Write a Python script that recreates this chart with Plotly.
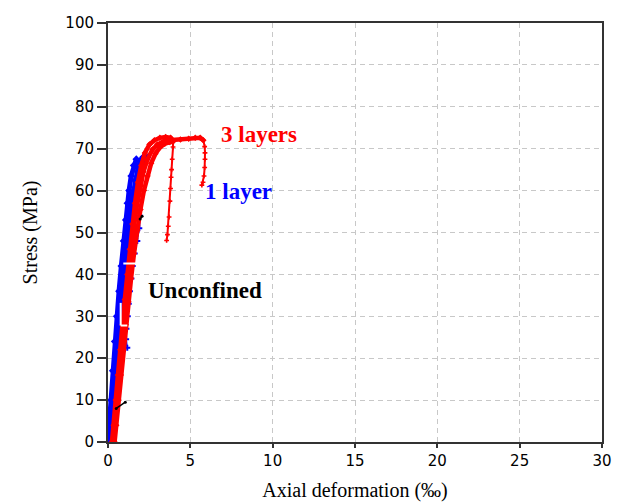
import plotly.graph_objects as go

# ---- data (Axial deformation in per mille, Stress in MPa) ----
b1_x = [0.0, 0.07, 0.18, 0.29, 0.41, 0.53, 0.67, 0.81, 0.95, 1.08, 1.18, 1.28, 1.41, 1.56, 1.72]
b1_y = [0, 4, 10, 17, 24, 30, 36, 42, 48, 53, 57, 60, 63.5, 66, 67.5]
b2_x = [0.05, 0.17, 0.29, 0.42, 0.56, 0.7, 0.86, 1.02, 1.18, 1.34, 1.5, 1.66, 1.83, 2.0, 2.14]
b2_y = [0, 5, 11, 17, 24, 30, 36.5, 42.5, 48.5, 54, 58.5, 62.5, 65.5, 67.3, 68]
b3_x = [0.12, 0.25, 0.4, 0.55, 0.7, 0.86, 1.02, 1.2, 1.38, 1.56, 1.74, 1.92, 2.1, 2.28, 2.38]
b3_y = [0, 5, 11, 17, 23.5, 30, 36.5, 43, 49, 54.5, 59, 62.5, 65.5, 67.3, 67.9]
b4_x = [1.17, 1.1, 1.12, 1.2, 1.26, 1.33, 1.42, 1.5, 1.62, 1.78, 1.9, 1.95]
b4_y = [22.5, 24.5, 27, 30, 33, 36, 39, 42, 45, 48, 51, 54]

r1_x = [0.24, 0.34, 0.47, 0.6, 0.74, 0.88, 1.02, 1.17, 1.32, 1.48, 1.64, 1.82, 2.02, 2.24, 2.52, 2.82, 3.15, 3.5, 3.8, 3.95]
r1_y = [0, 4, 10, 16, 22, 28, 34, 40, 46, 52, 57, 62, 66, 69, 71, 72, 72.6, 72.8, 72.6, 71.8]
r1d_x = [3.95, 3.95, 3.9, 3.86, 3.83, 3.8, 3.76, 3.71, 3.66, 3.61, 3.56]
r1d_y = [71.8, 70.4, 67.5, 65, 63.2, 60.5, 57.5, 53.7, 51.5, 49.5, 48.1]
r2_x = [0.3, 0.4, 0.52, 0.66, 0.8, 0.95, 1.1, 1.26, 1.42, 1.58, 1.76, 1.95, 2.15, 2.4, 2.7, 3.0, 3.4, 3.9, 4.4, 4.9, 5.3, 5.6, 5.79]
r2_y = [0, 4, 10, 16, 22, 28, 34, 40, 46, 51.5, 56.5, 61, 64.5, 67.5, 69.8, 71, 71.8, 72.1, 72.2, 72.4, 72.6, 72.6, 72.0]
r2d_x = [5.79, 5.87, 5.89, 5.89, 5.87, 5.83, 5.77, 5.7]
r2d_y = [72.0, 70.5, 69.0, 67.5, 65.5, 63.5, 62.0, 61.3]
r3_x = [0.4, 0.5, 0.63, 0.78, 0.93, 1.08, 1.24, 1.4, 1.58, 1.77, 1.97, 2.18, 2.4, 2.62, 2.88, 3.15, 3.45, 3.75, 3.95]
r3_y = [0, 4, 10, 16, 22, 28, 33.5, 39, 45, 50.5, 55.5, 60, 63.5, 66.5, 68.8, 70.3, 71.2, 71.6, 71.7]

unc_x = [0.5, 1.05, None, 1.95, 2.07]
unc_y = [8.0, 9.5, None, 53.2, 53.9]

white_x = [0.93, 1.9, None, 0.77, 1.17, None, 0.77, 0.77]
white_y = [42.6, 42.6, None, 27.8, 27.8, None, 27.8, 33.2]

x_ticks = [0, 5, 10, 15, 20, 25, 30]
y_ticks = [0, 10, 20, 30, 40, 50, 60, 70, 80, 90, 100]

labels = ["3 layers", "1 layer", "Unconfined"]
label_x = [9.2, 7.95, 5.9]
label_y = [73.3, 59.8, 36.2]
label_colors = ["#ff0000", "#0000ff", "#000000"]

BLUE = "#0000ff"
RED = "#ff0000"

fig = go.Figure()

def add(x, y, color, width, msize, symbol="diamond"):
    fig.add_trace(go.Scatter(
        x=x, y=y, mode="lines+markers",
        line=dict(color=color, width=width),
        marker=dict(color=color, size=msize, symbol=symbol),
        showlegend=False, hoverinfo="skip"))

# 1 layer (blue)
add(b1_x, b1_y, BLUE, 5, 6)
add(b2_x, b2_y, BLUE, 5, 6)
add(b3_x, b3_y, BLUE, 5, 6)
add(b4_x, b4_y, BLUE, 1.5, 5, "cross")
# 3 layers (red)
add(r1_x, r1_y, RED, 4.5, 5)
add(r2_x, r2_y, RED, 4.5, 5)
add(r3_x, r3_y, RED, 4.5, 5)
add(r1d_x, r1d_y, RED, 2, 4, "cross")
add(r2d_x, r2d_y, RED, 2, 4, "cross")
# white marks
fig.add_trace(go.Scatter(x=white_x, y=white_y, mode="lines",
                         line=dict(color="white", width=2),
                         showlegend=False, hoverinfo="skip"))
# unconfined (black)
fig.add_trace(go.Scatter(x=unc_x, y=unc_y, mode="lines+markers",
                         line=dict(color="black", width=1.5),
                         marker=dict(color="black", size=3),
                         showlegend=False, hoverinfo="skip"))

for t, lx, ly, c in zip(labels, label_x, label_y, label_colors):
    fig.add_annotation(x=lx, y=ly, xref="x", yref="y", text="<b>%s</b>" % t,
                       showarrow=False,
                       font=dict(family="Liberation Serif", size=23, color=c))

fig.update_layout(
    width=621, height=502,
    margin=dict(l=108, r=19, t=23, b=60),
    paper_bgcolor="white", plot_bgcolor="white",
)
fig.update_xaxes(
    range=[0, 30], tickvals=x_ticks, ticktext=[str(v) for v in x_ticks],
    showline=True, linecolor="#333333", linewidth=2, mirror=True,
    ticks="outside", ticklen=4, tickcolor="#333333", tickwidth=1.5,
    showgrid=True, gridcolor="#c8c8c8", griddash="5px,4px", gridwidth=1,
    zeroline=False, automargin=False,
    tickfont=dict(family="DejaVu Sans", size=15, color="black"),
    title=dict(text="Axial deformation (‰)", standoff=14,
               font=dict(family="Liberation Serif", size=20, color="black")),
)
fig.update_yaxes(
    range=[0, 100], tickvals=y_ticks, ticktext=[str(v) for v in y_ticks],
    showline=True, linecolor="#333333", linewidth=2, mirror=True,
    ticks="outside", ticklen=9, tickcolor="#333333", tickwidth=1.5,
    showgrid=True, gridcolor="#c8c8c8", griddash="5px,4px", gridwidth=1,
    zeroline=False, automargin=False,
    tickfont=dict(family="DejaVu Sans", size=15, color="black"),
    title=dict(text="Stress (MPa)", standoff=22,
               font=dict(family="Liberation Serif", size=20, color="black")),
)

fig.write_html("out.html")
